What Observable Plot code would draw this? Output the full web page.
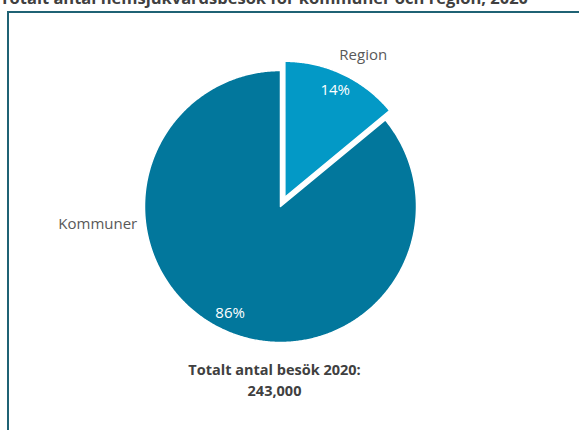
<!DOCTYPE html>
<html>
<head>
<meta charset="utf-8">
<script src="https://cdn.jsdelivr.net/npm/d3@7"></script>
<script src="https://cdn.jsdelivr.net/npm/@observablehq/plot@0.6"></script>
<style>
  html, body { margin: 0; padding: 0; background: #fff; }
  body { width: 579px; height: 430px; overflow: hidden; position: relative; font-family: "Open Sans", sans-serif; }
  #title { position: absolute; left: 0; top: -12px; font-weight: bold; font-size: 16.5px; color: #404040; white-space: nowrap; line-height: 20px; }
  #frame { position: absolute; left: 7px; top: 11px; width: 700px; height: 600px; border: 2px solid #1f6274; box-sizing: border-box; }
  #chart { position: absolute; left: 0; top: 0; }
</style>
</head>
<body>
<div id="title">Totalt antal hemsjukvårdsbesök för kommuner och region, 2020</div>
<div id="frame"></div>
<div id="chart"></div>
<script>
const categories = ["Region", "Kommuner"];
const shares = [14, 86];
const colors = ["#0399c6", "#02779c"];
const totalLabel = ["Totalt antal besök 2020:", "243,000"];

// layout (pixels)
const W = 579, H = 430, CX = 280, CY = 206, R = 136;
const explode = { Region: 0.075, Kommuner: 0 };

const data = categories.map((c, i) => ({ category: c, value: shares[i] }));
const arcs = d3.pie().sort(null).value(d => d.value).startAngle(0).endAngle(2 * Math.PI)(data);

const polys = [];
const inner = [];
for (const a of arcs) {
  const c = a.data.category;
  const mid = (a.startAngle + a.endAngle) / 2;
  const ox = explode[c] * Math.sin(mid), oy = explode[c] * Math.cos(mid);
  polys.push({ category: c, x: ox, y: oy });
  const n = Math.max(2, Math.ceil((a.endAngle - a.startAngle) / (Math.PI / 360)));
  for (let k = 0; k <= n; k++) {
    const t = a.startAngle + (a.endAngle - a.startAngle) * k / n;
    polys.push({ category: c, x: ox + Math.sin(t), y: oy + Math.cos(t) });
  }
  polys.push({ category: c, x: ox, y: oy });
  inner.push({ category: c, label: a.data.value + "%", x: ox + 0.87 * Math.sin(mid), y: oy + 0.87 * Math.cos(mid), mid });
}

// outside category labels
const outer = inner.map(d => {
  const ang = d.category === "Region" ? d.mid + 0.06 : -1.668;
  const r = d.category === "Region" ? 1.27 : 1.35;
  return { label: d.category, x: r * Math.sin(ang), y: r * Math.cos(ang) };
});

const chart = Plot.plot({
  width: W, height: H,
  margin: 0,
  style: { background: "transparent", overflow: "visible" },
  x: { domain: [-CX / R, (W - CX) / R], range: [0, W], axis: null },
  y: { domain: [-(H - CY) / R, CY / R], range: [H, 0], axis: null },
  color: { domain: categories, range: colors },
  marks: [
    Plot.line(polys, { x: "x", y: "y", z: "category", fill: "category", stroke: "white", strokeWidth: 1.5, curve: "linear" }),
    Plot.text(inner, { x: "x", y: "y", text: "label", fill: "white", fontSize: 15, fontFamily: "Open Sans" }),
    Plot.text(outer, { x: "x", y: "y", text: "label", fill: "#595959", fontSize: 15, fontFamily: "Open Sans" }),
    Plot.text([totalLabel.join("\n")], { x: 0, y: -1.265, text: d => d, dx: -6, fill: "#404040", fontWeight: "bold", fontSize: 14.5, fontFamily: "Open Sans", lineHeight: 1.5 })
  ]
});
document.getElementById("chart").appendChild(chart);
</script>
</body>
</html>
